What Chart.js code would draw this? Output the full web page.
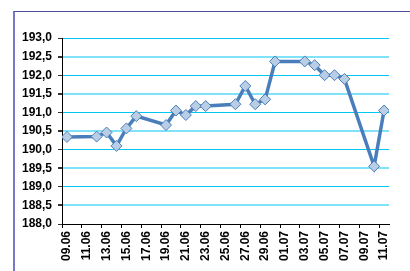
<!DOCTYPE html>
<html>
<head>
<meta charset="utf-8">
<script src="https://cdn.jsdelivr.net/npm/chart.js@4"></script>
<style>
    body { margin: 0; background: #fff; }
    #wrap { position: relative; width: 410px; height: 271px; overflow: hidden; }
    #frame { position: absolute; left: 13px; top: 11px; width: 420px; height: 300px;
             border-top: 1px solid #4b4b9b; border-left: 2px solid #7878c8; }
    canvas { position: absolute; left: 0; top: 0; }
</style>
</head>
<body>
<div id="wrap">
    <div id="frame"></div>
    <canvas id="chart"></canvas>
</div>
<script>
const pointDates = ['09.06', '12.06', '13.06', '14.06', '15.06', '16.06', '19.06', '20.06',
    '21.06', '22.06', '23.06', '26.06', '27.06', '28.06', '29.06', '30.06', '03.07', '04.07',
    '05.07', '06.07', '07.07', '10.07', '11.07'];
const rates = [190.34, 190.35, 190.46, 190.10, 190.57, 190.90, 190.66, 191.05,
    190.93, 191.17, 191.17, 191.22, 191.71, 191.22, 191.35, 192.37, 192.37, 192.27,
    192.00, 192.00, 191.90, 189.55, 191.05];
const tickLabels = ['09.06', '11.06', '13.06', '15.06', '17.06', '19.06', '21.06', '23.06',
    '25.06', '27.06', '29.06', '01.07', '03.07', '05.07', '07.07', '09.07', '11.07'];

// day number counted from 09.06 (June has 30 days)
function dayIndex(s) {
    const [d, m] = s.split('.').map(Number);
    return (m === 6 ? d : d + 30) - 9;
}

const data = pointDates.map((d, i) => ({ x: dayIndex(d), y: rates[i] }));
const font = { family: 'Liberation Sans, Arial, sans-serif', size: 12, weight: 'bold' };

new Chart(document.getElementById('chart'), {
    type: 'line',
    data: {
        datasets: [{
            data,
            borderColor: '#4a7ebb',
            borderWidth: 3.5,
            backgroundColor: '#b9cde5',
            pointStyle: 'rectRot',
            pointRadius: 5.5,
            pointBorderColor: '#4a7ebb',
            pointBorderWidth: 1,
            tension: 0
        }]
    },
    options: {
        responsive: true,
        maintainAspectRatio: false,
        animation: false,
        layout: { padding: { left: 0, top: 38, right: 21, bottom: 0 } },
        plugins: { legend: { display: false }, tooltip: { enabled: false } },
        scales: {
            x: {
                type: 'linear',
                min: -0.5,
                max: 32.5,
                afterFit: s => { s.height = 47; },
                afterBuildTicks: s => {
                    s.ticks = tickLabels.map((t, i) => ({ value: i * 2 - 0.5 }));
                },
                ticks: {
                    autoSkip: false,
                    minRotation: 90,
                    maxRotation: 90,
                    labelOffset: 5,
                    padding: 3,
                    color: '#000',
                    font,
                    callback: (v, i) => tickLabels[i]
                },
                grid: { drawOnChartArea: false, tickLength: 4, tickColor: '#000' },
                border: { color: '#000', width: 1 }
            },
            y: {
                min: 188,
                max: 193,
                afterFit: s => { s.width = 62; },
                ticks: {
                    stepSize: 0.5,
                    padding: 6,
                    color: '#000',
                    font,
                    callback: v => v.toFixed(1).replace('.', ',')
                },
                grid: {
                    color: c => Number.isInteger(c.tick.value) ? '#00c8f0' : '#80e2f8',
                    lineWidth: c => Number.isInteger(c.tick.value) ? 1 : 2,
                    tickLength: 4,
                    tickColor: '#333'
                },
                border: { color: '#000', width: 1 }
            }
        }
    }
});
</script>
</body>
</html>
